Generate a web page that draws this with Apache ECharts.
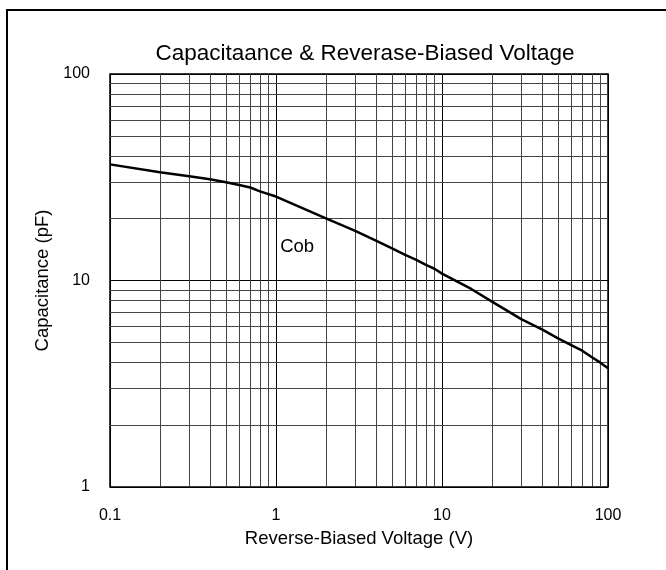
<!DOCTYPE html>
<html><head><meta charset="utf-8">
<script src="https://cdn.jsdelivr.net/npm/echarts@6/dist/echarts.min.js"></script>
<style>html,body{margin:0;padding:0;background:#fff}#c{width:666px;height:570px}</style>
</head><body><div id="c"></div>
<script>
const voltage = [0.1,0.2,0.3,0.4,0.5,0.6,0.7,0.8,1,2,3,4,5,6,7,8,9,10,15,20,30,40,50,60,70,80,90,100];
const cob     = [36.5,33.4,32.0,30.9,29.9,29.0,28.2,27.0,25.5,20.0,17.4,15.6,14.3,13.3,12.6,11.9,11.4,10.8,9.1,7.9,6.5,5.8,5.25,4.87,4.57,4.25,4.0,3.76];
const xMinor = [0.2,0.3,0.4,0.5,0.6,0.7,0.8,0.9,2,3,4,5,6,7,8,9,20,30,40,50,60,70,80,90];
const yMinor = [2,3,4,5,6,7,8,9,20,30,40,50,60,70,80,90];
const seriesName = 'Cob';
const labelAt = [1.34, 14.5];

const font = 'Liberation Sans, Arial, sans-serif';
const chart = echarts.init(document.getElementById('c'), null, {renderer:'canvas'});
chart.setOption({
  animation:false,
  backgroundColor:'#fff',
  title:{text:'Capacitaance & Reverase-Biased Voltage', left:360, top:37, textAlign:'center',
    textStyle:{fontFamily:font, fontSize:22.5, fontWeight:'normal', color:'#000'}},
  graphic:[{type:'rect', shape:{x:7, y:10, width:700, height:600}, style:{fill:'none', stroke:'#000', lineWidth:2}, silent:true}],
  grid:{left:110, right:58, top:74, bottom:83, show:true, borderColor:'#000', borderWidth:1.5, backgroundColor:'transparent'},
  xAxis:{type:'log', logBase:10, min:0.1, max:100,
    name:'Reverse-Biased Voltage (V)', nameLocation:'middle', nameGap:42,
    nameTextStyle:{fontFamily:font, fontSize:18.5, color:'#000'},
    axisLine:{show:false}, axisTick:{show:false},
    axisLabel:{fontFamily:font, fontSize:16, color:'#000', margin:21, formatter:v=>String(+v.toPrecision(3))},
    splitLine:{show:true, lineStyle:{color:'#000', width:1}}},
  yAxis:{type:'log', logBase:10, min:1, max:100,
    name:'Capacitance (pF)', nameLocation:'middle', nameGap:53,
    nameTextStyle:{fontFamily:font, fontSize:18.5, color:'#000'},
    axisLine:{show:false}, axisTick:{show:false},
    axisLabel:{fontFamily:font, fontSize:16, color:'#000', margin:20, formatter:v=>String(+v.toPrecision(3))},
    splitLine:{show:true, lineStyle:{color:'#000', width:1}}},
  series:[
    {type:'line', name:'grid', data:[], silent:true,
     markLine:{silent:true, symbol:'none', animation:false, label:{show:false},
       lineStyle:{color:'#444', width:1, type:'solid'},
       data:[...xMinor.map(v=>({xAxis:v})), ...yMinor.map(v=>({yAxis:v}))]}},
    {type:'line', name:seriesName, data:voltage.map((v,i)=>[v,cob[i]]), showSymbol:false, smooth:false,
     lineStyle:{color:'#000', width:2.5}, z:5,
     markPoint:{symbol:'circle', symbolSize:0, silent:true,
       label:{show:true, formatter:seriesName, fontFamily:font, fontSize:18.5, color:'#000', position:'inside'},
       data:[{coord:labelAt}]}}
  ]
});
</script></body></html>
